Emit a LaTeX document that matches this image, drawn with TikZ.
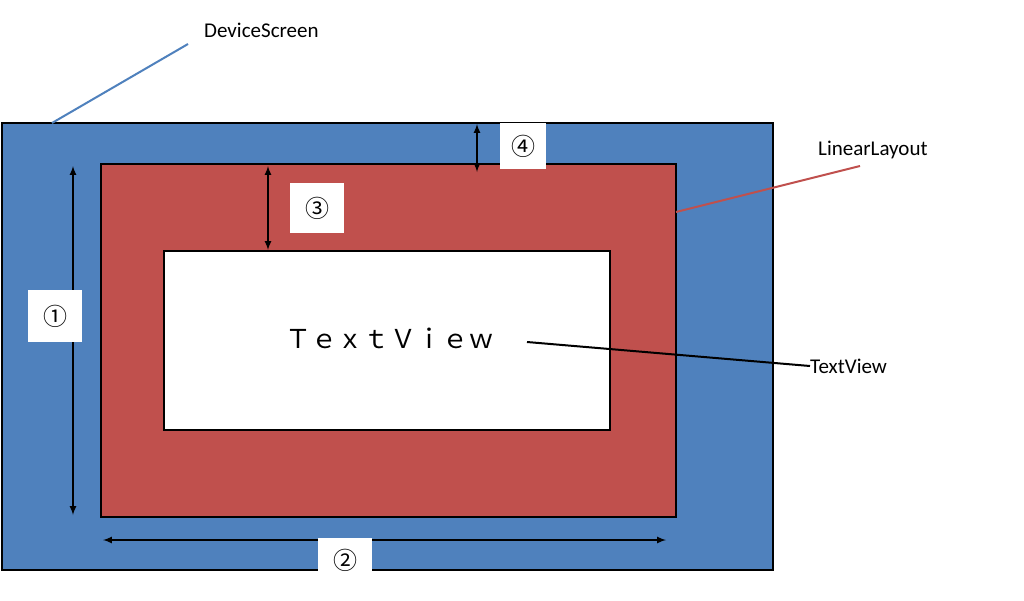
\documentclass[tikz,border=0pt]{standalone}
\usepackage{fontspec}
\setmainfont{Carlito}
\newfontfamily\cjk{Noto Sans CJK JP}
\begin{document}
\begin{tikzpicture}[x=1pt,y=-1pt,
 box/.style={draw=black,line width=2pt},
 dim/.style={line width=2pt,<->,>=latex},
 lab/.style={font=\fontsize{21}{24}\selectfont,inner sep=0pt},
 num/.style={fill=white,font=\cjk\fontsize{24}{28}\selectfont,inner sep=0pt},
 lead/.style={line width=2pt}]
\useasboundingbox (0,0) rectangle (1024,600);
\fill[white] (0,0) rectangle (1024,600);
\draw[box,fill={rgb,255:red,79;green,129;blue,189}] (2,123) rectangle (773,570);
\draw[box,fill={rgb,255:red,192;green,80;blue,77}] (101,164) rectangle (676,517);
\draw[box,fill=white] (164,251) rectangle (610,430);
\node[font=\cjk\fontsize{26}{30}\selectfont,inner sep=0pt] (tv) at (390,338) {Ｔｅｘｔ\hspace{1pt}Ｖｉｅｗ};
\coordinate (tvend) at (527,342);
\node[lab,anchor=west] (ds) at (204,30) {DeviceScreen};
\node[lab,anchor=west] (ll) at (818,150) {LinearLayout};
\node[lab,anchor=west] (tvl) at (810,366) {TextView};
\coordinate (dsa) at (188,44); \coordinate (dsb) at (52,123);
\coordinate (lla) at (860,166); \coordinate (llb) at (676,212);
\draw[lead,color={rgb,255:red,79;green,129;blue,189}] (dsa) -- (dsb);
\draw[lead,color={rgb,255:red,192;green,80;blue,77}] (lla) -- (llb);
\draw[lead] (tvend) -- (tvl.west);
\coordinate (a1) at (73,166); \coordinate (b1) at (73,515);
\coordinate (a2) at (103,540); \coordinate (b2) at (666,540);
\coordinate (a3) at (268,166); \coordinate (b3) at (268,250);
\coordinate (a4) at (477,124); \coordinate (b4) at (477,172);
\draw[dim] (a1) -- (b1);
\draw[dim] (a2) -- (b2);
\draw[dim] (a3) -- (b3);
\draw[dim] (a4) -- (b4);
\node[num,minimum width=54,minimum height=52] (n1) at (55,316) {①};
\node[num,minimum width=54,minimum height=44] (n2) at (345,560) {②};
\node[num,minimum width=54,minimum height=50] (n3) at (317,208) {③};
\node[num,minimum width=46,minimum height=46] (n4) at (523,146) {④};
\end{tikzpicture}
\end{document}
